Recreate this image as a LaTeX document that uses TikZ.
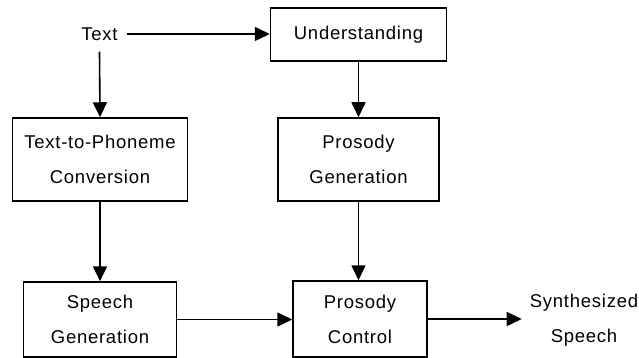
\documentclass[tikz,border=0pt]{standalone}
\usepackage{fontspec}
\setmainfont{Liberation Sans}[LetterSpace=4]
\usetikzlibrary{arrows.meta}
\begin{document}
\begin{tikzpicture}[x=1pt,y=-1pt,
  lbl/.style={font=\fontsize{18.5}{35}\selectfont, align=center},
  blk/.style={lbl, draw, line width=1.5pt, inner sep=0pt},
  arr/.style={line width=1.6pt, -{Triangle[length=15pt,width=14pt]}}]
  \useasboundingbox (0,0) rectangle (639,358);

  % nodes
  \node[lbl, inner xsep=9pt, inner ysep=11pt] (text) at (99.5,34) {Text};
  \node[blk, minimum width=176pt, minimum height=53pt] (und) at (358.5,34.5) {Understanding};
  \node[blk, minimum width=175pt, minimum height=83pt] (ttp) at (100,159.5) {Text-to-Phoneme\\Conversion};
  \node[blk, minimum width=161pt, minimum height=83pt] (pg) at (358.5,159.5) {Prosody\\Generation};
  \node[blk, minimum width=153pt, minimum height=75pt] (sg) at (100,319.5) {Speech\\Generation};
  \node[blk, minimum width=134pt, minimum height=76pt] (pc) at (360,319) {Prosody\\Control};
  \node[lbl, inner sep=8pt] (syn) at (584,320) {Synthesized\\Speech};

  % connectors
  \draw[arr] (text.east) -- (und.west |- text.east);
  \draw[arr] (text.south) -- (ttp.north);
  \draw[arr] (und.south) -- (pg.north);
  \draw[arr] (ttp.south) -- (sg.north);
  \draw[arr] (pg.south) -- (pg.south |- pc.north);
  \draw[arr] (sg.east) -- (pc.west |- sg.east);
  \draw[arr] (pc.east) -- (pc.east -| syn.west);
\end{tikzpicture}
\end{document}
